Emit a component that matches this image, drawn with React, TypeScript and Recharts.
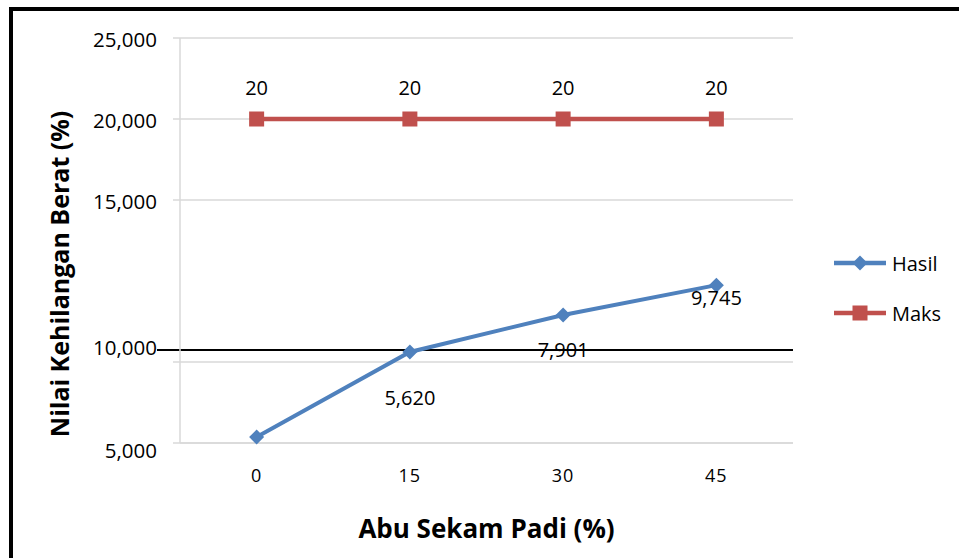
import {
  LineChart,
  Line,
  XAxis,
  YAxis,
  CartesianGrid,
  ReferenceLine,
  LabelList,
  Legend,
  Label,
} from 'recharts'

// values (y axis is really 0..25, relabelled)
const categories = [0, 15, 30, 45]
const hasil = [0.37, 5.62, 7.901, 9.745]
const maks = [20, 20, 20, 20]
const yTicks = [0, 5, 15, 20, 25]
const yTickLabels = ['5,000', '10,000', '15,000', '20,000', '25,000']
const batas = 5.74 // the black line drawn over the plot

// label nudges (px), kept apart from the values
const yTickShift = [7, -15, 1, 1, 1]
const hasilLabelShift = [null, 46, 34, 12]

const BLUE = '#4F81BD'
const RED = '#C0504D'
const GRID = '#D9D9D9'
const FONT = '"Open Sans", sans-serif'

const data = categories.map((c, i) => ({
  idx: i,
  cat: String(c),
  hasil: hasil[i],
  maks: maks[i],
}))
const catTicks = categories.map((_, i) => i)
const boundaryTicks = [...catTicks.map((i) => i - 0.5), categories.length - 0.5]
const xDomain = [-0.5, categories.length - 0.5]

const series = [
  { key: 'hasil', label: 'Hasil', color: BLUE, shape: 'diamond' },
  { key: 'maks', label: 'Maks', color: RED, shape: 'square' },
]

const fmt3 = (n: number) => n.toFixed(3).replace('.', ',')

function Diamond({ cx, cy, color }: { cx: number; cy: number; color: string }) {
  const r = 7.5
  return (
    <polygon
      points={`${cx},${cy - r} ${cx + r},${cy} ${cx},${cy + r} ${cx - r},${cy}`}
      fill={color}
    />
  )
}

function Square({ cx, cy, color }: { cx: number; cy: number; color: string }) {
  return <rect x={cx - 7.5} y={cy - 7.5} width={15} height={15} fill={color} />
}

// eslint-disable-next-line @typescript-eslint/no-explicit-any
function YTick(props: any) {
  const { x, y, payload } = props
  const i = yTicks.indexOf(payload.value)
  return (
    <text
      x={x}
      y={y + yTickShift[i]}
      textAnchor="end"
      dominantBaseline="central"
      fontFamily={FONT}
      fontSize={20.5}
      fill="#000"
    >
      {yTickLabels[i]}
    </text>
  )
}

// eslint-disable-next-line @typescript-eslint/no-explicit-any
function XTick(props: any) {
  const { x, y, payload } = props
  return (
    <text
      x={x}
      y={y}
      dy={23}
      textAnchor="middle"
      dominantBaseline="central"
      fontFamily={FONT}
      fontSize={18}
      letterSpacing={1}
      fill="#000"
    >
      {categories[payload.value]}
    </text>
  )
}

function LegendBox() {
  return (
    <div style={{ fontFamily: FONT, fontSize: 20, color: '#000' }}>
      {series.map((s) => (
        <div
          key={s.key}
          style={{ display: 'flex', alignItems: 'center', height: 50 }}
        >
          <svg width={58} height={20}>
            <line x1={2} y1={10} x2={54} y2={10} stroke={s.color} strokeWidth={4.5} />
            {s.shape === 'diamond' ? (
              <Diamond cx={28} cy={10} color={s.color} />
            ) : (
              <Square cx={28} cy={10} color={s.color} />
            )}
          </svg>
          <span style={{ marginLeft: 2 }}>{s.label}</span>
        </div>
      ))}
    </div>
  )
}

export default function App() {
  return (
    <div
      style={{
        position: 'absolute',
        left: 0,
        top: 0,
        width: 959,
        height: 558,
        background: '#fff',
        overflow: 'hidden',
      }}
    >
      <LineChart
        width={959}
        height={558}
        data={data}
        margin={{ top: 38, right: 166, bottom: 64, left: 0 }}
      >
        <CartesianGrid
          xAxisId="b"
          stroke={GRID}
          strokeWidth={1.5}
          vertical={false}
        />
        <XAxis
          xAxisId="a"
          dataKey="idx"
          type="number"
          domain={xDomain}
          ticks={boundaryTicks}
          tick={false}
          height={1}
          tickSize={6}
          axisLine={{ stroke: GRID, strokeWidth: 1.5 }}
          tickLine={{ stroke: GRID, strokeWidth: 1.5 }}
        />
        <XAxis
          xAxisId="b"
          dataKey="idx"
          type="number"
          domain={xDomain}
          ticks={catTicks}
          height={50}
          axisLine={false}
          tickLine={false}
          tick={<XTick />}
        >
          <Label
            content={() => (
              <text
                x={486.5}
                y={528}
                textAnchor="middle"
                dominantBaseline="central"
                fontFamily={FONT}
                fontWeight={700}
                fontSize={26}
                fill="#000"
              >
                Abu Sekam Padi (%)
              </text>
            )}
          />
        </XAxis>
        <YAxis
          width={180}
          domain={[0, 25]}
          ticks={yTicks}
          tickSize={7}
          tickMargin={16}
          axisLine={{ stroke: GRID, strokeWidth: 1.5 }}
          tickLine={{ stroke: GRID, strokeWidth: 1.5 }}
          tick={<YTick />}
        >
          <Label
            content={() => (
              <text
                x={59}
                y={274}
                transform="rotate(-90 59 274)"
                textAnchor="middle"
                dominantBaseline="central"
                fontFamily={FONT}
                fontWeight={700}
                fontSize={25}
                fill="#000"
              >
                Nilai Kehilangan Berat (%)
              </text>
            )}
          />
        </YAxis>
        <ReferenceLine
          xAxisId="b"
          y={batas}
          // eslint-disable-next-line @typescript-eslint/no-explicit-any
          shape={(p: any) => (
            <line
              x1={p.x1 - 23}
              y1={p.y1}
              x2={p.x2}
              y2={p.y2}
              stroke="#000"
              strokeWidth={2}
            />
          )}
        />
        <Line
          xAxisId="b"
          dataKey="maks"
          name="Maks"
          stroke={RED}
          strokeWidth={4.5}
          isAnimationActive={false}
          // eslint-disable-next-line @typescript-eslint/no-explicit-any
          dot={(p: any) => <Square key={p.index} cx={p.cx} cy={p.cy} color={RED} />}
          activeDot={false}
        >
          <LabelList
            dataKey="maks"
            // eslint-disable-next-line @typescript-eslint/no-explicit-any
            content={(p: any) => (
              <text
                x={p.x}
                y={p.y - 32}
                textAnchor="middle"
                dominantBaseline="central"
                fontFamily={FONT}
                fontSize={20}
                fill="#000"
              >
                {p.value}
              </text>
            )}
          />
        </Line>
        <Line
          xAxisId="b"
          dataKey="hasil"
          name="Hasil"
          stroke={BLUE}
          strokeWidth={4}
          isAnimationActive={false}
          // eslint-disable-next-line @typescript-eslint/no-explicit-any
          dot={(p: any) => <Diamond key={p.index} cx={p.cx} cy={p.cy} color={BLUE} />}
          activeDot={false}
        >
          <LabelList
            dataKey="hasil"
            // eslint-disable-next-line @typescript-eslint/no-explicit-any
            content={(p: any) => {
              const shift = hasilLabelShift[p.index]
              if (shift == null) return null
              return (
                <text
                  x={p.x}
                  y={p.y + shift}
                  textAnchor="middle"
                  dominantBaseline="central"
                  fontFamily={FONT}
                  fontSize={20}
                  fill="#000"
                >
                  {fmt3(p.value)}
                </text>
              )
            }}
          />
        </Line>
        <Legend
          layout="vertical"
          align="center"
          verticalAlign="middle"
          content={() => <LegendBox />}
          wrapperStyle={{ left: 832, top: 238, width: 120 }}
        />
      </LineChart>
      <div
        style={{
          position: 'absolute',
          left: 9,
          top: 7,
          right: -10,
          bottom: -10,
          borderTop: '4px solid #000',
          borderLeft: '4px solid #000',
          pointerEvents: 'none',
        }}
      />
    </div>
  )
}
